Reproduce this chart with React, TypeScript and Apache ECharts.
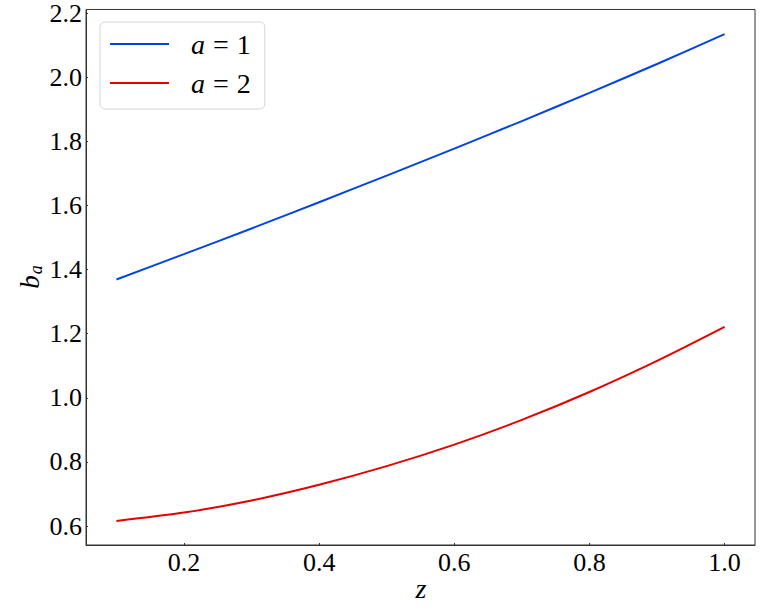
import React, { useEffect, useRef } from "react";
import * as echarts from "echarts";

const zValues = [0.1, 0.2, 0.3, 0.4, 0.5, 0.6, 0.7, 0.8, 0.9, 1.0];
const bA1 = [1.369, 1.448, 1.528, 1.61, 1.693, 1.777, 1.863, 1.951, 2.041, 2.134];
const bA2 = [0.616, 0.642, 0.68, 0.729, 0.787, 0.854, 0.931, 1.018, 1.115, 1.221];
const xTicks = [0.2, 0.4, 0.6, 0.8, 1.0];
const yTicks = [0.6, 0.8, 1.0, 1.2, 1.4, 1.6, 1.8, 2.0, 2.2];
const seriesNames = ["a = 1", "a = 2"];

const FONT = "Liberation Serif";

export default function App() {
  const ref = useRef<HTMLDivElement>(null);
  useEffect(() => {
    const chart = echarts.init(ref.current!, null, { renderer: "svg" });
    const axisCommon = {
      splitLine: { show: false },
      axisLine: { show: true, lineStyle: { color: "#333", width: 1 } },
      axisTick: { show: true, inside: true, length: 2, lineStyle: { color: "#333" } },
    };
    chart.setOption({
      animation: false,
      backgroundColor: "#fff",
      grid: {
        left: 86,
        top: 7,
        right: 8,
        bottom: 65,
        show: true,
        borderColor: "#333",
        borderWidth: 1,
        containLabel: false,
      },
      xAxis: {
        type: "value",
        min: 0.055,
        max: 1.045,
        ...axisCommon,
        axisTick: { ...axisCommon.axisTick, customValues: xTicks },
        axisLabel: {
          customValues: xTicks,
          margin: 4,
          fontFamily: FONT,
          fontSize: 26,
          color: "#000",
          formatter: (v: number) => v.toFixed(1),
        },
      },
      yAxis: {
        type: "value",
        min: 0.541,
        max: 2.211,
        ...axisCommon,
        axisTick: { ...axisCommon.axisTick, customValues: yTicks },
        axisLabel: {
          customValues: yTicks,
          margin: 4,
          fontFamily: FONT,
          fontSize: 26,
          color: "#000",
          formatter: (v: number) => v.toFixed(1),
        },
      },
      legend: {
        orient: "vertical",
        left: 100,
        top: 22,
        backgroundColor: "#fff",
        borderColor: "#d6d6d6",
        borderWidth: 1,
        borderRadius: 5,
        padding: [8, 14, 12, 10],
        itemGap: 11,
        itemWidth: 59,
        itemHeight: 2,
        icon: "rect",
        data: seriesNames,
        formatter: (name: string) => "{i|a}{e|=}{n|" + name.slice(-1) + "}",
        textStyle: {
          padding: [0, 0, 0, 17],
          rich: {
            i: { fontFamily: FONT, fontStyle: "italic", fontSize: 28, color: "#000" },
            e: { fontFamily: FONT, fontSize: 28, color: "#000", padding: [0, 8, 0, 8] },
            n: { fontFamily: FONT, fontSize: 28, color: "#000" },
          },
        },
      },
      graphic: [
        {
          type: "text",
          x: 421,
          y: 588,
          style: {
            text: "z",
            font: "italic 28px " + FONT,
            fill: "#000",
            align: "center",
            verticalAlign: "middle",
          },
        },
        {
          type: "text",
          x: 30,
          y: 277,
          rotation: Math.PI / 2,
          style: {
            text: "{b|b}{s|a}",
            align: "center",
            verticalAlign: "middle",
            rich: {
              b: { fontFamily: FONT, fontStyle: "italic", fontSize: 27, fill: "#000", color: "#000" },
              s: {
                fontFamily: FONT,
                fontStyle: "italic",
                fontSize: 18,
                fill: "#000",
                color: "#000",
                verticalAlign: "bottom",
                padding: [12, 0, 0, 1],
              },
            },
          },
        },
      ],
      series: [
        {
          name: seriesNames[0],
          type: "line",
          data: zValues.map((z, i) => [z, bA1[i]]),
          smooth: 0.3,
          showSymbol: false,
          symbol: "none",
          lineStyle: { color: "#0343df", width: 2 },
          itemStyle: { color: "#0343df" },
        },
        {
          name: seriesNames[1],
          type: "line",
          data: zValues.map((z, i) => [z, bA2[i]]),
          smooth: 0.3,
          showSymbol: false,
          symbol: "none",
          lineStyle: { color: "#e50000", width: 2 },
          itemStyle: { color: "#e50000" },
        },
      ],
    });
    return () => chart.dispose();
  }, []);
  return (
    <div
      ref={ref}
      style={{ position: "fixed", left: 0, top: 0, width: 763, height: 610, background: "#fff" }}
    />
  );
}
